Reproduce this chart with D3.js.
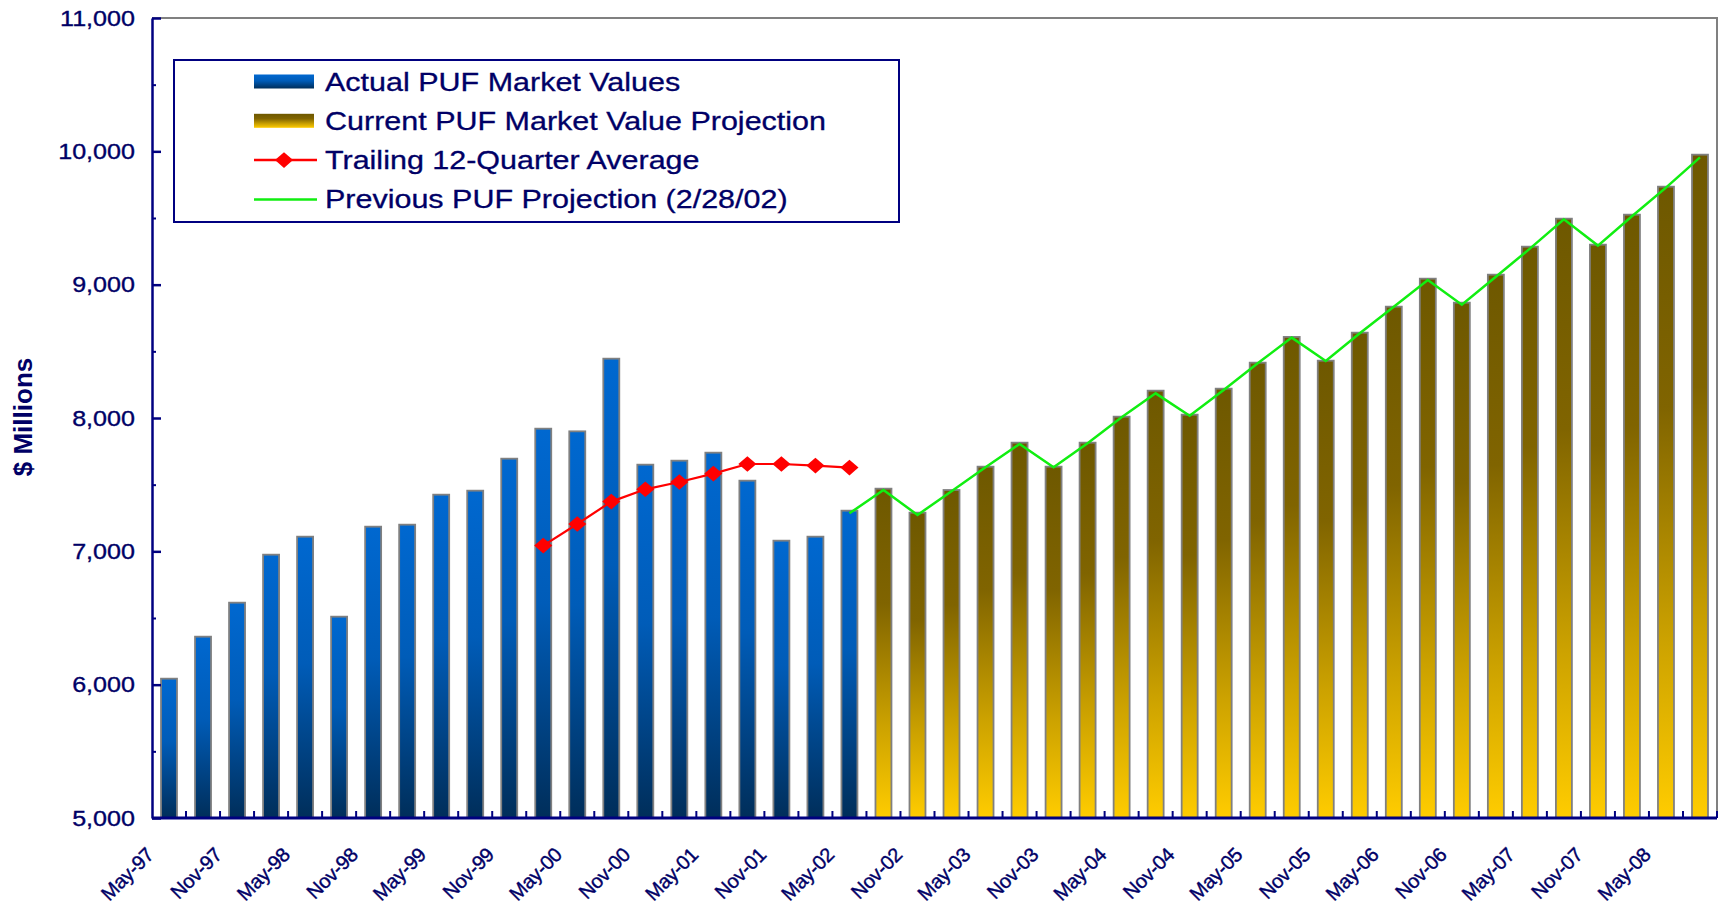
<!DOCTYPE html>
<html>
<head>
<meta charset="utf-8">
<script src="https://d3js.org/d3.v7.min.js"></script>
<style>
  html, body { margin: 0; padding: 0; background: #fff; }
  svg { display: block; font-family: "Liberation Sans", Arial, sans-serif; }
</style>
</head>
<body>
<svg id="chart" width="1720" height="906"></svg>
<script>
(function(){
'use strict';

// quarterly categories, May-97 .. Aug-08
var quarters = [
    "May-97","Aug-97","Nov-97",
    "Feb-98","May-98","Aug-98","Nov-98",
    "Feb-99","May-99","Aug-99","Nov-99",
    "Feb-00","May-00","Aug-00","Nov-00",
    "Feb-01","May-01","Aug-01","Nov-01",
    "Feb-02","May-02","Aug-02","Nov-02",
    "Feb-03","May-03","Aug-03","Nov-03",
    "Feb-04","May-04","Aug-04","Nov-04",
    "Feb-05","May-05","Aug-05","Nov-05",
    "Feb-06","May-06","Aug-06","Nov-06",
    "Feb-07","May-07","Aug-07","Nov-07",
    "Feb-08","May-08","Aug-08"
];

var xTickLabels = [
    "May-97","Nov-97","May-98","Nov-98","May-99","Nov-99","May-00","Nov-00",
    "May-01","Nov-01","May-02","Nov-02","May-03","Nov-03","May-04","Nov-04",
    "May-05","Nov-05","May-06","Nov-06","May-07","Nov-07","May-08"
];

var yTickValues = [5000, 6000, 7000, 8000, 9000, 10000, 11000];
var yMinorValues = [5500, 6500, 7500, 8500, 9500, 10500];

// Actual PUF Market Values, May-97 .. May-02
var actualValues = [6045, 6360, 6615, 6975, 7110, 6510, 7185, 7200, 7425, 7455, 7695,
                    7920, 7900, 8445, 7650, 7680, 7740, 7530, 7080, 7110, 7305];

// Current PUF Market Value Projection, Aug-02 .. Aug-08
var projectionValues = [7470, 7290, 7460, 7635, 7815, 7635, 7815, 8010, 8205, 8025,
                        8220, 8415, 8608, 8430, 8640, 8835, 9045, 8865, 9075, 9285,
                        9495, 9300, 9525, 9735, 9975];

// Trailing 12-Quarter Average, Feb-00 .. May-02
var trailingStart = "Feb-00";
var trailingValues = [7043, 7205, 7373, 7465, 7520, 7583, 7655, 7655, 7643, 7628];

// Previous PUF Projection (2/28/02), May-02 .. Aug-08
var previousStart = "May-02";
var previousValues = [7285, 7460, 7273, 7450, 7630, 7805, 7630, 7810, 8005, 8185,
                      8017, 8210, 8410, 8603, 8428, 8635, 8835, 9035, 8850, 9060,
                      9270, 9490, 9293, 9513, 9728, 9955];

var NAVY = "#000066",
    AXIS = "#000080",
    GREY = "#808080";

var svg = d3.select("#chart");
var margin = {top: 18, right: 3, bottom: 88, left: 152},
    width = 1720,
    height = 906,
    x0 = margin.left, x1 = width - margin.right,
    y0 = height - margin.bottom, y1 = margin.top;

var x = d3.scaleBand().domain(quarters).range([x0, x1]).paddingInner(0.53).paddingOuter(0.265);
var y = d3.scaleLinear().domain([5000, 11000]).range([y0, y1]);
var cx = function(q) { return x(q) + x.bandwidth() / 2; };

// gradients
var defs = svg.append("defs");
function gradient(id, stops) {
    var g = defs.append("linearGradient").attr("id", id)
        .attr("x1", 0).attr("y1", 0).attr("x2", 0).attr("y2", 1);
    stops.forEach(function(s) {
        g.append("stop").attr("offset", s[0]).attr("stop-color", s[1]);
    });
}
gradient("blueGrad", [[0, "#0068D0"], [0.45, "#005CB8"], [1, "#002E5A"]]);
gradient("goldGrad", [[0, "#6E5800"], [0.35, "#806400"], [0.72, "#CCA200"], [1, "#FFCC00"]]);

// plot frame: grey top/right, navy left/bottom
svg.append("path")
    .attr("d", "M" + x0 + "," + y1 + "H" + x1 + "V" + y0)
    .attr("fill", "none").attr("stroke", GREY).attr("stroke-width", 2);

// bars
var actualData = actualValues.map(function(v, i) { return {q: quarters[i], v: v}; });
var projData = projectionValues.map(function(v, i) { return {q: quarters[actualValues.length + i], v: v}; });

function drawBars(cls, data, fill) {
    svg.append("g").attr("class", cls)
        .selectAll("rect").data(data).enter().append("rect")
        .attr("x", function(d) { return x(d.q); })
        .attr("y", function(d) { return y(d.v); })
        .attr("width", x.bandwidth())
        .attr("height", function(d) { return y0 - y(d.v); })
        .attr("fill", fill)
        .attr("stroke", GREY)
        .attr("stroke-width", 1.8);
}
drawBars("actual", actualData, "url(#blueGrad)");
drawBars("projection", projData, "url(#goldGrad)");

// lines
var line = d3.line().x(function(d) { return cx(d.q); }).y(function(d) { return y(d.v); });

var i0 = quarters.indexOf(previousStart);
var prevData = previousValues.map(function(v, i) { return {q: quarters[i0 + i], v: v}; });
svg.append("path").datum(prevData)
    .attr("d", line).attr("fill", "none")
    .attr("stroke", "#11EE11").attr("stroke-width", 2.5);

var t0 = quarters.indexOf(trailingStart);
var trailData = trailingValues.map(function(v, i) { return {q: quarters[t0 + i], v: v}; });
svg.append("path").datum(trailData)
    .attr("d", line).attr("fill", "none")
    .attr("stroke", "#FF0000").attr("stroke-width", 2.2);
// square turned 45deg, slightly flattened -> Excel-style diamond
var diamond = d3.symbol().type(d3.symbolSquare).size(140);
svg.append("g").selectAll("path").data(trailData).enter().append("path")
    .attr("d", diamond)
    .attr("transform", function(d) { return "translate(" + cx(d.q) + "," + y(d.v) + ") scale(1.08,0.93) rotate(45)"; })
    .attr("fill", "#FF0000");

// y axis
var yAxis = svg.append("g").attr("transform", "translate(" + x0 + ",0)")
    .call(d3.axisLeft(y).tickValues(yTickValues).tickSize(-9).tickSizeOuter(0)
        .tickPadding(15).tickFormat(d3.format(",")));
yAxis.select(".domain").attr("stroke", AXIS).attr("stroke-width", 2.5);
yAxis.selectAll(".tick line").attr("stroke", AXIS).attr("stroke-width", 2.5);
yAxis.selectAll(".tick text")
    .attr("fill", NAVY)
    .attr("stroke", NAVY)
    .attr("stroke-width", 0.35)
    .attr("font-size", 22)
    .attr("font-family", "Liberation Sans, Arial, sans-serif")
    .attr("transform", "scale(1.14,1)");

var yMinor = svg.append("g").attr("transform", "translate(" + x0 + ",0)")
    .call(d3.axisLeft(y).tickValues(yMinorValues).tickSize(-4).tickSizeOuter(0).tickFormat(""));
yMinor.select(".domain").remove();
yMinor.selectAll(".tick line").attr("stroke", AXIS).attr("stroke-width", 2);

// x axis: line, ticks on category boundaries, rotated labels
svg.append("line")
    .attr("x1", x0).attr("x2", x1).attr("y1", y0).attr("y2", y0)
    .attr("stroke", AXIS).attr("stroke-width", 3);
svg.append("g").selectAll("line").data(d3.range(1, quarters.length + 1)).enter().append("line")
    .attr("x1", function(i) { return x0 + i * x.step(); })
    .attr("x2", function(i) { return x0 + i * x.step(); })
    .attr("y1", y0).attr("y2", y0 - 7)
    .attr("stroke", AXIS).attr("stroke-width", 2);

svg.append("g").selectAll("text").data(xTickLabels).enter().append("text")
    .attr("transform", function(d) { return "translate(" + (cx(d) - 14) + "," + (y0 + 38) + ") rotate(-45)"; })
    .attr("text-anchor", "end")
    .attr("font-size", 20)
    .attr("letter-spacing", -0.3)
    .attr("fill", NAVY)
    .attr("stroke", NAVY)
    .attr("stroke-width", 0.4)
    .text(function(d) { return d; });

// y title
svg.append("text")
    .attr("transform", "translate(32,417) rotate(-90)")
    .attr("text-anchor", "middle")
    .attr("font-size", 26)
    .attr("font-weight", "bold")
    .attr("fill", NAVY)
    .text("$ Millions");

// legend
var legendItems = [
    {label: "Actual PUF Market Values", kind: "bar", fill: "url(#blueGrad)"},
    {label: "Current PUF Market Value Projection", kind: "bar", fill: "url(#goldGrad)"},
    {label: "Trailing 12-Quarter Average", kind: "marker", color: "#FF0000"},
    {label: "Previous PUF Projection (2/28/02)", kind: "line", color: "#11EE11"}
];
var legend = svg.append("g");
legend.append("rect")
    .attr("x", 174).attr("y", 60).attr("width", 725).attr("height", 162)
    .attr("fill", "#fff").attr("stroke", AXIS).attr("stroke-width", 2);

var rows = legend.selectAll("g.row").data(legendItems).enter().append("g")
    .attr("class", "row")
    .attr("transform", function(d, i) { return "translate(0," + (81.5 + i * 39.3) + ")"; });

rows.filter(function(d) { return d.kind === "bar"; }).append("rect")
    .attr("x", 254).attr("y", -7).attr("width", 60).attr("height", 14)
    .attr("fill", function(d) { return d.fill; });
rows.filter(function(d) { return d.kind !== "bar"; }).append("line")
    .attr("x1", 254).attr("x2", 317).attr("y1", 0).attr("y2", 0)
    .attr("stroke", function(d) { return d.color; }).attr("stroke-width", 2.5);
rows.filter(function(d) { return d.kind === "marker"; }).append("path")
    .attr("d", diamond)
    .attr("transform", "translate(284,0) scale(1.08,0.93) rotate(45)")
    .attr("fill", function(d) { return d.color; });
rows.append("text")
    .attr("transform", "translate(325,0) scale(1.22,1)")
    .attr("dy", "0.36em")
    .attr("font-size", 25)
    .attr("fill", NAVY)
    .attr("stroke", NAVY)
    .attr("stroke-width", 0.3)
    .text(function(d) { return d.label; });

})();
</script>
</body>
</html>
